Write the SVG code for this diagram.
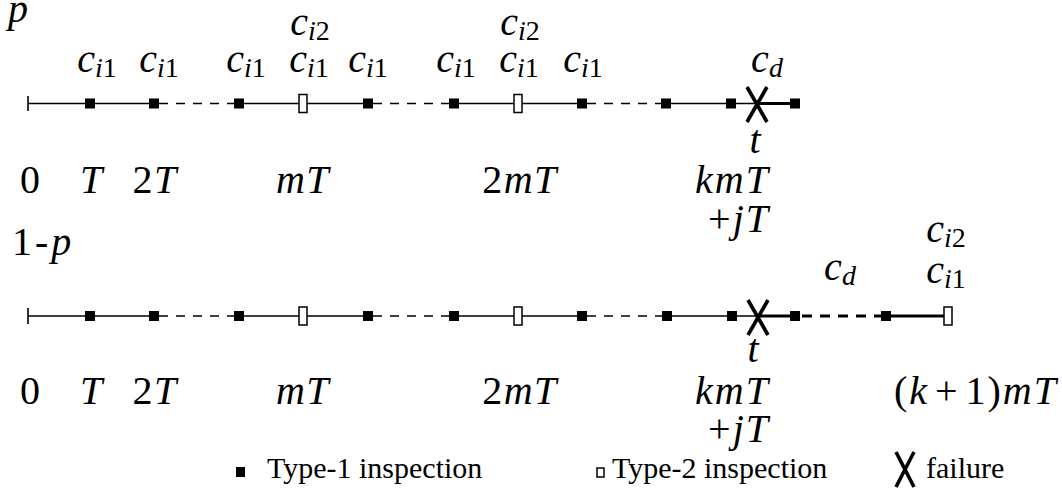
<svg xmlns="http://www.w3.org/2000/svg" width="1062" height="495" viewBox="0 0 1062 495">
<g id="connectors" fill="none" stroke="#000">
  <path stroke-width="1.6" d="M28,96 V111 M28,103.5 H154 M239,103.5 H368 M454,103.5 H582 M666,103.5 H757"/>
  <path stroke-width="1.6" d="M28,308 V324 M28,316 H154 M239,316 H368 M454,316 H582 M666,316 H757"/>
  <path stroke-width="1.6" stroke-dasharray="9 8" d="M159,103.5 H236 M373,103.5 H451 M587,103.5 H663 M159,316 H236 M373,316 H451 M587,316 H663"/>
  <path stroke-width="3.2" d="M757,103.5 H795 M757,316 H795 M885,316 H944"/>
  <path stroke-width="3.2" stroke-dasharray="10 8" d="M802,316 H882"/>
</g>

<g id="row1-markers" fill="#000">
  <rect x="85" y="98.5" width="10" height="10"/>
  <rect x="149" y="98.5" width="10" height="10"/>
  <rect x="234" y="98.5" width="10" height="10"/>
  <rect x="299" y="94.5" width="8" height="18" fill="#fff" stroke="#000" stroke-width="1.5"/>
  <rect x="363" y="98.5" width="10" height="10"/>
  <rect x="449" y="98.5" width="10" height="10"/>
  <rect x="514" y="94.5" width="8" height="18" fill="#fff" stroke="#000" stroke-width="1.5"/>
  <rect x="577" y="98.5" width="10" height="10"/>
  <rect x="661" y="98.5" width="10" height="10"/>
  <rect x="726" y="98.5" width="10" height="10"/>
  <path fill="none" stroke="#000" stroke-width="3.6" d="M747,87 L767,122 M767,87 L747,122"/>
  <rect x="790" y="98.5" width="10" height="10"/>
</g>

<g id="row2-markers" fill="#000">
  <rect x="85" y="311" width="10" height="10"/>
  <rect x="149" y="311" width="10" height="10"/>
  <rect x="234" y="311" width="10" height="10"/>
  <rect x="299" y="307" width="8" height="18" fill="#fff" stroke="#000" stroke-width="1.5"/>
  <rect x="363" y="311" width="10" height="10"/>
  <rect x="449" y="311" width="10" height="10"/>
  <rect x="514" y="307" width="8" height="18" fill="#fff" stroke="#000" stroke-width="1.5"/>
  <rect x="577" y="311" width="10" height="10"/>
  <rect x="662" y="311" width="10" height="10"/>
  <rect x="727" y="311" width="10" height="10"/>
  <path fill="none" stroke="#000" stroke-width="3.6" d="M748,300 L768,335 M768,300 L748,335"/>
  <rect x="790" y="311" width="10" height="10"/>
  <rect x="881" y="311" width="10" height="10"/>
  <rect x="944" y="307" width="8" height="18" fill="#fff" stroke="#000" stroke-width="1.5"/>
</g>

<g id="row1-labels">
  <text font-family="Liberation Serif" font-size="40" font-style="italic" x="8" y="22">p</text>
  <text font-family="Liberation Serif" font-size="40" x="310" y="35" text-anchor="middle"><tspan font-style="italic">c</tspan><tspan font-size="28" font-style="italic" dy="5">i</tspan><tspan font-size="28">2</tspan></text>
  <text font-family="Liberation Serif" font-size="40" x="520" y="35" text-anchor="middle"><tspan font-style="italic">c</tspan><tspan font-size="28" font-style="italic" dy="5">i</tspan><tspan font-size="28">2</tspan></text>
  <text font-family="Liberation Serif" font-size="40" x="97" y="72" text-anchor="middle"><tspan font-style="italic">c</tspan><tspan font-size="28" font-style="italic" dy="5">i</tspan><tspan font-size="28">1</tspan></text>
  <text font-family="Liberation Serif" font-size="40" x="159" y="72" text-anchor="middle"><tspan font-style="italic">c</tspan><tspan font-size="28" font-style="italic" dy="5">i</tspan><tspan font-size="28">1</tspan></text>
  <text font-family="Liberation Serif" font-size="40" x="246" y="72" text-anchor="middle"><tspan font-style="italic">c</tspan><tspan font-size="28" font-style="italic" dy="5">i</tspan><tspan font-size="28">1</tspan></text>
  <text font-family="Liberation Serif" font-size="40" x="309" y="72" text-anchor="middle"><tspan font-style="italic">c</tspan><tspan font-size="28" font-style="italic" dy="5">i</tspan><tspan font-size="28">1</tspan></text>
  <text font-family="Liberation Serif" font-size="40" x="368" y="72" text-anchor="middle"><tspan font-style="italic">c</tspan><tspan font-size="28" font-style="italic" dy="5">i</tspan><tspan font-size="28">1</tspan></text>
  <text font-family="Liberation Serif" font-size="40" x="456" y="72" text-anchor="middle"><tspan font-style="italic">c</tspan><tspan font-size="28" font-style="italic" dy="5">i</tspan><tspan font-size="28">1</tspan></text>
  <text font-family="Liberation Serif" font-size="40" x="519" y="72" text-anchor="middle"><tspan font-style="italic">c</tspan><tspan font-size="28" font-style="italic" dy="5">i</tspan><tspan font-size="28">1</tspan></text>
  <text font-family="Liberation Serif" font-size="40" x="583" y="72" text-anchor="middle"><tspan font-style="italic">c</tspan><tspan font-size="28" font-style="italic" dy="5">i</tspan><tspan font-size="28">1</tspan></text>
  <text font-family="Liberation Serif" font-size="40" x="767" y="72" text-anchor="middle"><tspan font-style="italic">c</tspan><tspan font-size="28" font-style="italic" dy="5">d</tspan></text>
  <text font-family="Liberation Serif" font-size="40" font-style="italic" x="755" y="153" text-anchor="middle">t</text>
  <text font-family="Liberation Serif" font-size="40" x="30" y="193" text-anchor="middle">0</text>
  <text font-family="Liberation Serif" font-size="40" font-style="italic" x="91" y="193" text-anchor="middle">T</text>
  <text font-family="Liberation Serif" font-size="40" x="155" y="193" text-anchor="middle" letter-spacing="1.5">2<tspan font-style="italic">T</tspan></text>
  <text font-family="Liberation Serif" font-size="40" font-style="italic" x="303" y="193" text-anchor="middle" letter-spacing="1.5">mT</text>
  <text font-family="Liberation Serif" font-size="40" x="520" y="193" text-anchor="middle" letter-spacing="1.5">2<tspan font-style="italic">mT</tspan></text>
  <text font-family="Liberation Serif" font-size="40" font-style="italic" x="770" y="193" text-anchor="end" letter-spacing="2">kmT</text>
  <text font-family="Liberation Serif" font-size="40" x="770" y="232" text-anchor="end" letter-spacing="2">+<tspan font-style="italic">jT</tspan></text>
</g>

<g id="row2-labels">
  <text font-family="Liberation Serif" font-size="40" x="12" y="255">1<tspan dx="3">-</tspan><tspan font-style="italic" dx="3">p</tspan></text>
  <text font-family="Liberation Serif" font-size="40" x="840" y="280" text-anchor="middle"><tspan font-style="italic">c</tspan><tspan font-size="28" font-style="italic" dy="5">d</tspan></text>
  <text font-family="Liberation Serif" font-size="40" x="946" y="242" text-anchor="middle"><tspan font-style="italic">c</tspan><tspan font-size="28" font-style="italic" dy="5">i</tspan><tspan font-size="28">2</tspan></text>
  <text font-family="Liberation Serif" font-size="40" x="946" y="283" text-anchor="middle"><tspan font-style="italic">c</tspan><tspan font-size="28" font-style="italic" dy="5">i</tspan><tspan font-size="28">1</tspan></text>
  <text font-family="Liberation Serif" font-size="40" font-style="italic" x="753" y="362" text-anchor="middle">t</text>
  <text font-family="Liberation Serif" font-size="40" x="30" y="404" text-anchor="middle">0</text>
  <text font-family="Liberation Serif" font-size="40" font-style="italic" x="91" y="404" text-anchor="middle">T</text>
  <text font-family="Liberation Serif" font-size="40" x="155" y="404" text-anchor="middle" letter-spacing="1.5">2<tspan font-style="italic">T</tspan></text>
  <text font-family="Liberation Serif" font-size="40" font-style="italic" x="303" y="404" text-anchor="middle" letter-spacing="1.5">mT</text>
  <text font-family="Liberation Serif" font-size="40" x="520" y="404" text-anchor="middle" letter-spacing="1.5">2<tspan font-style="italic">mT</tspan></text>
  <text font-family="Liberation Serif" font-size="40" font-style="italic" x="770" y="404" text-anchor="end" letter-spacing="2">kmT</text>
  <text font-family="Liberation Serif" font-size="40" x="770" y="442" text-anchor="end" letter-spacing="2">+<tspan font-style="italic">jT</tspan></text>
  <text font-family="Liberation Serif" font-size="40" x="1058" y="404" text-anchor="end" letter-spacing="2">(<tspan font-style="italic">k</tspan><tspan dx="6">+</tspan><tspan dx="6">1)</tspan><tspan font-style="italic">mT</tspan></text>
</g>

<g id="legend">
  <rect fill="#000" x="236" y="467" width="9" height="10"/>
  <text font-family="Liberation Serif" font-size="30" x="267" y="478">Type-1 inspection</text>
  <rect fill="#fff" stroke="#000" stroke-width="1.5" x="597" y="468" width="7" height="9"/>
  <text font-family="Liberation Serif" font-size="30" x="612" y="478">Type-2 inspection</text>
  <path fill="none" stroke="#000" stroke-width="3.6" d="M896,452 L914,487 M914,452 L896,487"/>
  <text font-family="Liberation Serif" font-size="30" x="926" y="478">failure</text>
</g>
</svg>
